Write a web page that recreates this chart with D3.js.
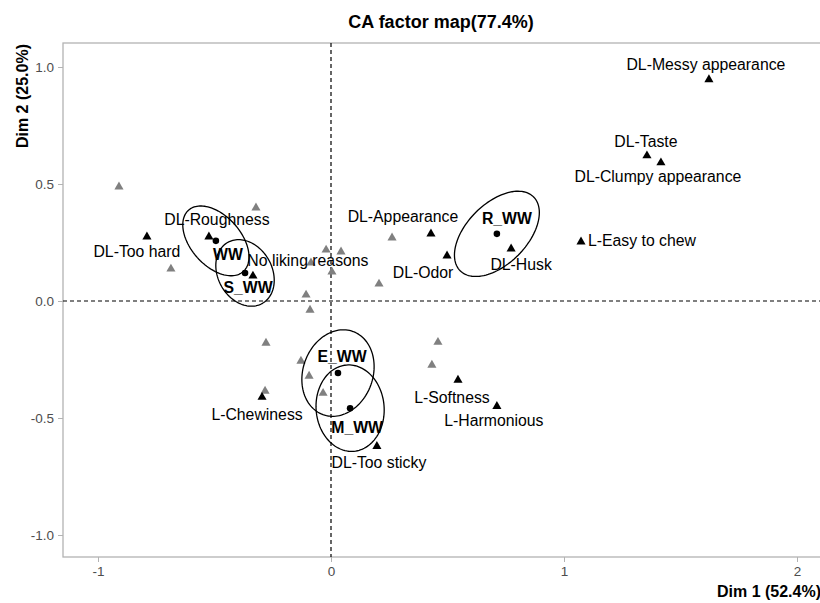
<!DOCTYPE html>
<html>
<head>
<meta charset="utf-8">
<script src="https://cdn.jsdelivr.net/npm/d3@7"></script>
<style>
  body { margin: 0; background: #fff; }
  svg { font-family: "Liberation Sans", Arial, sans-serif; }
</style>
</head>
<body>
<svg></svg>
<script>
// row points (samples)
var rowNames = ["WW", "S_WW", "R_WW", "E_WW", "M_WW"];
var rowX = [-0.494, -0.369, 0.712, 0.030, 0.082];
var rowY = [0.257, 0.120, 0.287, -0.308, -0.458];

// confidence ellipses around row points: semi axes + angle (deg)
var ellA = [0.176, 0.150, 0.223, 0.189, 0.185];
var ellB = [0.107, 0.116, 0.129, 0.150, 0.146];
var ellAngle = [-48, -60, 45, 70, 95];

// column points shown with labels
var colNames = ["DL-Messy appearance", "DL-Taste", "DL-Clumpy appearance", "L-Easy to chew",
    "DL-Appearance", "DL-Odor", "DL-Husk", "DL-Roughness", "DL-Too hard", "No liking reasons",
    "L-Chewiness", "DL-Too sticky", "L-Softness", "L-Harmonious"];
var colX = [1.622, 1.356, 1.416, 1.073, 0.429, 0.498, 0.773, -0.524, -0.790, -0.335,
    -0.296, 0.197, 0.545, 0.712];
var colY = [0.946, 0.621, 0.591, 0.253, 0.287, 0.193, 0.223, 0.274, 0.274, 0.107,
    -0.411, -0.621, -0.338, -0.450];

// other column points (grey, unlabelled)
var greyX = [-0.910, -0.322, -0.687, -0.021, 0.043, 0.004, -0.086, -0.107, -0.090,
    0.262, 0.206, -0.279, -0.129, -0.094, -0.034, -0.283, 0.459, 0.433];
var greyY = [0.488, 0.398, 0.137, 0.218, 0.210, 0.124, 0.163, 0.026, -0.039,
    0.270, 0.073, -0.180, -0.257, -0.321, -0.394, -0.385, -0.176, -0.274];

var xTicks = [-1, 0, 1, 2];
var yTicks = [-1, -0.5, 0, 0.5, 1];

// label nudges in pixels (repel style placement)
var colNudge = [[-3,-15],[-1,-14],[-3,14],[61,-1],[-28,-17],[-24,17],[10,16],[8,-17],
    [-10,15],[55,-15],[-5,17],[2,16],[-6,17],[-3,14]];
var rowNudge = [[12,14],[3,15],[10,-15],[4,-17],[7,19]];

var screen = {width: 820, height: 603};
var frame = {left: 63, top: 43, bottom: 557, right: 840};

var svg = d3.select("svg")
    .attr("width", screen.width)
    .attr("height", screen.height);

var xScale = d3.scaleLinear()
    .domain([-1, 2])
    .range([98, 797]);

var yScale = d3.scaleLinear()
    .domain([-1, 1])
    .range([535, 67]);

// frame
svg.append("rect")
    .attr("x", frame.left)
    .attr("y", frame.top)
    .attr("width", frame.right - frame.left)
    .attr("height", frame.bottom - frame.top)
    .attr("fill", "none")
    .attr("stroke", "#b3b3b3")
    .attr("stroke-width", 1.3);

var fmt = function(d){ return d3.format(".1f")(d).replace("\u2212", "-"); };

var yAxis = svg.append("g")
    .attr("transform", "translate(" + frame.left + ",0)")
    .call(d3.axisLeft(yScale).tickValues(yTicks).tickSize(5).tickPadding(4).tickFormat(fmt));

var xAxis = svg.append("g")
    .attr("transform", "translate(0," + frame.bottom + ")")
    .call(d3.axisBottom(xScale).tickValues(xTicks).tickSize(5).tickPadding(4)
        .tickFormat(function(d){ return String(d); }));

[xAxis, yAxis].forEach(function(ax){
    ax.select(".domain").remove();
    ax.selectAll(".tick line").attr("stroke", "#b3b3b3");
    ax.selectAll(".tick text")
        .attr("fill", "#4d4d4d")
        .style("font-size", "13.5px")
        .style("font-family", "'Liberation Sans', Arial, sans-serif");
});

// dashed origin lines
svg.append("line")
    .attr("x1", xScale(0)).attr("x2", xScale(0))
    .attr("y1", frame.top).attr("y2", frame.bottom)
    .attr("stroke", "black").attr("stroke-width", 1.2)
    .attr("stroke-dasharray", "4,3");

svg.append("line")
    .attr("x1", frame.left).attr("x2", screen.width)
    .attr("y1", yScale(0)).attr("y2", yScale(0))
    .attr("stroke", "black").attr("stroke-width", 1.2)
    .attr("stroke-dasharray", "4,3");

var tri = d3.symbol().type(d3.symbolTriangle).size(36);
var dot = d3.symbol().type(d3.symbolCircle).size(34);

// grey triangles
svg.append("g").selectAll("path")
    .data(greyX)
    .enter()
    .append("path")
    .attr("d", tri)
    .attr("fill", "#808080")
    .attr("transform", function(d, i){
        return "translate(" + xScale(d) + "," + yScale(greyY[i]) + ")";
    });

// ellipses
var ellLine = d3.line()
    .x(function(p){ return xScale(p[0]); })
    .y(function(p){ return yScale(p[1]); })
    .curve(d3.curveLinearClosed);

svg.append("g").selectAll("path")
    .data(rowNames)
    .enter()
    .append("path")
    .attr("fill", "none")
    .attr("stroke", "black")
    .attr("stroke-width", 1.3)
    .attr("d", function(d, i){
        var th = ellAngle[i] * Math.PI / 180;
        var pts = d3.range(0, 2 * Math.PI, Math.PI / 60).map(function(t){
            var ex = ellA[i] * Math.cos(t), ey = ellB[i] * Math.sin(t);
            return [rowX[i] + ex * Math.cos(th) - ey * Math.sin(th),
                    rowY[i] + ex * Math.sin(th) + ey * Math.cos(th)];
        });
        return ellLine(pts);
    });

// black triangles
svg.append("g").selectAll("path")
    .data(colNames)
    .enter()
    .append("path")
    .attr("d", tri)
    .attr("fill", "black")
    .attr("transform", function(d, i){
        return "translate(" + xScale(colX[i]) + "," + yScale(colY[i]) + ")";
    });

// row dots
svg.append("g").selectAll("path")
    .data(rowNames)
    .enter()
    .append("path")
    .attr("d", dot)
    .attr("fill", "black")
    .attr("transform", function(d, i){
        return "translate(" + xScale(rowX[i]) + "," + yScale(rowY[i]) + ")";
    });

// labels
svg.append("g").selectAll("text")
    .data(colNames)
    .enter()
    .append("text")
    .attr("x", function(d, i){ return xScale(colX[i]) + colNudge[i][0]; })
    .attr("y", function(d, i){ return yScale(colY[i]) + colNudge[i][1]; })
    .attr("dy", "0.35em")
    .attr("text-anchor", "middle")
    .style("font-size", "15.8px")
    .text(function(d){ return d; });

svg.append("g").selectAll("text")
    .data(rowNames)
    .enter()
    .append("text")
    .attr("x", function(d, i){ return xScale(rowX[i]) + rowNudge[i][0]; })
    .attr("y", function(d, i){ return yScale(rowY[i]) + rowNudge[i][1]; })
    .attr("dy", "0.35em")
    .attr("text-anchor", "middle")
    .style("font-size", "15.8px")
    .style("font-weight", "bold")
    .text(function(d){ return d; });

// titles
svg.append("text")
    .attr("x", 441).attr("y", 28)
    .attr("text-anchor", "middle")
    .style("font-size", "18px")
    .style("font-weight", "bold")
    .text("CA factor map(77.4%)");

svg.append("text")
    .attr("x", 821).attr("y", 597)
    .attr("text-anchor", "end")
    .style("font-size", "16px")
    .style("font-weight", "bold")
    .text("Dim 1 (52.4%)");

svg.append("text")
    .attr("transform", "translate(28,44) rotate(-90)")
    .attr("text-anchor", "end")
    .style("font-size", "16px")
    .style("font-weight", "bold")
    .text("Dim 2 (25.0%)");
</script>
</body>
</html>
